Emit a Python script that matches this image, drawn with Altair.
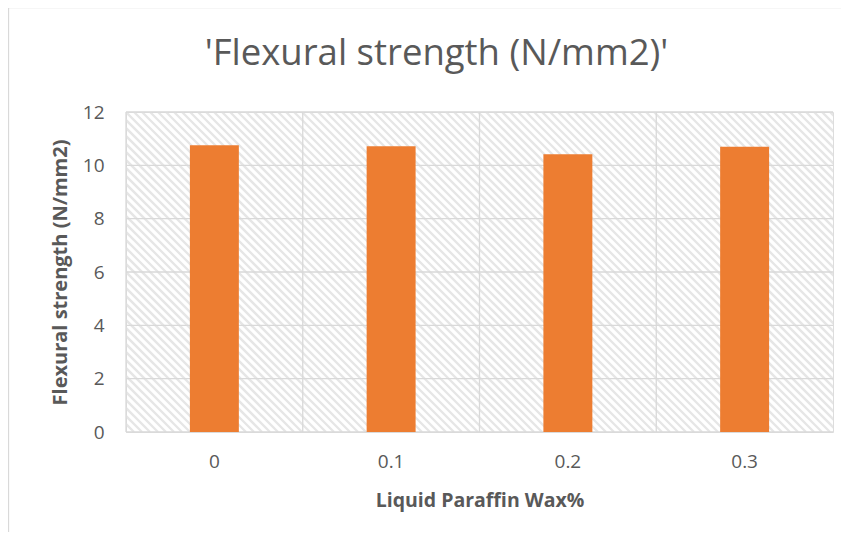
import altair as alt
import pandas as pd

# ---- data ----
categories = ["0", "0.1", "0.2", "0.3"]
strength = [10.75, 10.72, 10.42, 10.70]
y_ticks = [0, 2, 4, 6, 8, 10, 12]

chart_title = "'Flexural strength (N/mm2)'"
x_title = "Liquid Paraffin Wax%"
y_title = "Flexural strength (N/mm2)"

FONT = "Open Sans"
GRAY_TXT = "#595959"
GRID = "#d9d9d9"
BAR = "#ED7D31"

W, H = 707, 320

df = pd.DataFrame({"cat": categories, "val": strength})
ticks_df = pd.DataFrame({"t": y_ticks})
one = pd.DataFrame({"k": [0]})

# decorative hatch pattern of the plot background (pixel space)
offs = list(range(-H, W + 8, 8))
hatch_df = pd.DataFrame({"x1": offs, "y1": [H] * len(offs),
                         "x2": [o + H for o in offs], "y2": [0] * len(offs)})

hatch = alt.Chart(hatch_df).mark_rule(clip=True, color="#e6e6e6", strokeWidth=2.3).encode(
    x=alt.X("x1:Q", scale=alt.Scale(domain=[0, W], nice=False, zero=False), axis=None),
    y=alt.Y("y1:Q", scale=alt.Scale(domain=[0, H], nice=False, zero=False), axis=None),
    x2="x2:Q", y2="y2:Q",
)

xscale = alt.Scale(domain=categories, paddingInner=0, paddingOuter=0)
yscale = alt.Scale(domain=[0, 12], nice=False)

xaxis = alt.Axis(title=x_title, labelAngle=0, domain=False, ticks=False,
                 labelPadding=20, labelFontSize=19, labelColor=GRAY_TXT,
                 labelFont=FONT, titleFont=FONT, titleFontSize=19.5,
                 titleFontWeight="bold", titleColor=GRAY_TXT,
                 titleBaseline="alphabetic", titleY=74, grid=False)
yaxis = alt.Axis(title=y_title, values=y_ticks, domain=False, ticks=False,
                 labelPadding=22, labelFontSize=19, labelColor=GRAY_TXT,
                 labelFont=FONT, titleFont=FONT, titleFontSize=20,
                 titleFontWeight="bold", titleColor=GRAY_TXT,
                 titleBaseline="middle", titleX=-66, grid=False)

hgrid = alt.Chart(ticks_df).mark_rule(color=GRID, strokeWidth=1.3).encode(
    y=alt.Y("t:Q", scale=yscale, axis=yaxis, title=y_title)
)
vgrid = alt.Chart(df).mark_rule(color=GRID, strokeWidth=1.3).encode(
    x=alt.X("cat:N", scale=xscale, sort=categories, bandPosition=0, axis=xaxis, title=x_title)
)

bars = alt.Chart(df).mark_bar(color=BAR, width=alt.RelativeBandSize(0.277)).encode(
    x=alt.X("cat:N", scale=xscale, sort=categories, axis=xaxis, title=x_title),
    y=alt.Y("val:Q", scale=yscale, axis=yaxis, title=y_title),
)

border = alt.Chart(one).mark_rect(fill=None, stroke=GRID, strokeWidth=1.3).encode(
    x=alt.value(-117.5), y=alt.value(-104.5), x2=alt.value(W + 300), y2=alt.value(H + 300)
)

title = alt.Chart(one).mark_text(font=FONT, fontSize=36.5, color=GRAY_TXT,
                                 baseline="alphabetic", align="center").encode(
    x=alt.value(310.5), y=alt.value(-47), text=alt.value(chart_title)
)

inner = alt.layer(hgrid, vgrid, bars, border, title)

chart = alt.layer(hatch, inner).resolve_scale(x="independent", y="independent").properties(
    width=W, height=H, autosize="none",
    padding={"left": 118, "top": 104, "right": 8, "bottom": 100},
).configure_view(stroke=GRID, strokeWidth=1.3).configure(background="white")

chart.save("out.html", embed_options={"renderer": "svg", "actions": False})
